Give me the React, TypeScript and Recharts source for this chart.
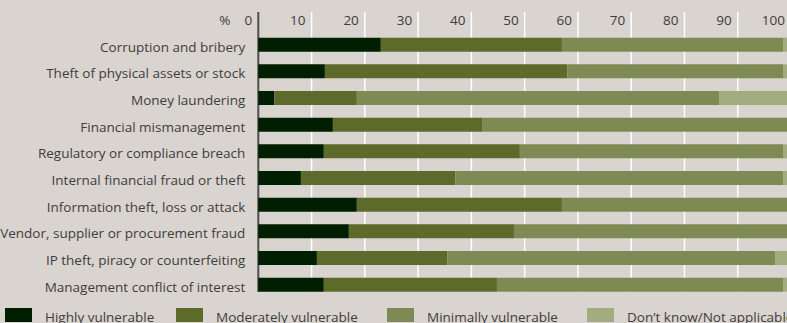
import React from 'react';
import { BarChart, Bar, XAxis, YAxis, CartesianGrid } from 'recharts';

const categories = [
  'Corruption and bribery',
  'Theft of physical assets or stock',
  'Money laundering',
  'Financial mismanagement',
  'Regulatory or compliance breach',
  'Internal financial fraud or theft',
  'Information theft, loss or attack',
  'Vendor, supplier or procurement fraud',
  'IP theft, piracy or counterfeiting',
  'Management conflict of interest',
];
const highly = [23, 12.5, 3, 14, 12.3, 8, 18.5, 17, 11, 12.3];
const moderately = [34, 45.5, 15.5, 28, 36.8, 29, 38.5, 31, 24.5, 32.5];
const minimally = [41.5, 40.5, 68, 58, 49.4, 61.5, 43, 52, 61.5, 53.7];
const dontKnow = [1.5, 1.5, 13.5, 0, 1.5, 1.5, 0, 0, 3, 1.5];
const xTicks = [0, 10, 20, 30, 40, 50, 60, 70, 80, 90, 100];

const seriesKeys = ['highly', 'moderately', 'minimally', 'dontKnow'];
const seriesNames = ['Highly vulnerable', 'Moderately vulnerable', 'Minimally vulnerable', 'Don\u2019t know/Not applicable'];
const seriesColors = ['#001f00', '#5c6b29', '#7e8a53', '#a3ac7e'];

const data = categories.map((name, i) => ({
  name,
  highly: highly[i],
  moderately: moderately[i],
  minimally: minimally[i],
  dontKnow: dontKnow[i],
}));

const FONT = '"Open Sans", sans-serif';
const FS = 13.5;
const TEXT = '#3d3d3d';
const BG = '#d9d4cf';
const LEGEND_X = [5, 176, 387, 587];

const XTick = (props: any) => {
  const { x, payload } = props;
  return (
    <g>
      <text x={x - 6} y={25} textAnchor="end" fontFamily={FONT} fontSize={FS} fill={TEXT}>
        {payload.value}
      </text>
      {payload.value === 0 && (
        <text x={x - 28} y={25} textAnchor="end" fontFamily={FONT} fontSize={FS} fill={TEXT}>
          %
        </text>
      )}
    </g>
  );
};

const YTick = (props: any) => {
  const { x, y, payload } = props;
  return (
    <text x={x} y={y + 6.7} textAnchor="end" fontFamily={FONT} fontSize={FS} fill={TEXT}>
      {payload.value}
    </text>
  );
};

const GridLine = (p: any) => {
  const isAxis = Math.abs(p.x1 - 258.3) < 1;
  return (
    <line
      key={p.key}
      x1={p.x1}
      x2={p.x2}
      y1={p.y1}
      y2={p.y2 - 6.3}
      stroke={isAxis ? '#4f4f4f' : '#ffffff'}
      strokeWidth={isAxis ? 2 : 1.5}
    />
  );
};

export default function App() {
  return (
    <div
      style={{
        position: 'fixed',
        left: 0,
        top: 0,
        width: 787,
        height: 323,
        overflow: 'hidden',
        background: BG,
      }}
    >
      <BarChart
        layout="vertical"
        width={800}
        height={323}
        data={data}
        margin={{ top: 11, right: 9, bottom: 24.7, left: 0 }}
        barSize={14}
      >
        <CartesianGrid horizontal={false} vertical={GridLine} />
        <XAxis
          type="number"
          domain={[0, 100]}
          ticks={xTicks}
          orientation="top"
          height={1}
          axisLine={false}
          tickLine={false}
          tick={XTick}
          interval={0}
        />
        <YAxis
          type="category"
          dataKey="name"
          width={258.3}
          axisLine={false}
          tickLine={false}
          tickSize={0}
          tickMargin={13}
          padding={{ top: 19.67, bottom: 0 }}
          tick={YTick}
          interval={0}
        />
        {seriesKeys.map((k, i) => (
          <Bar key={k} dataKey={k} name={seriesNames[i]} stackId="a" fill={seriesColors[i]} isAnimationActive={false} />
        ))}
      </BarChart>
      {seriesNames.map((n, i) => (
        <div key={n}>
          <div
            style={{
              position: 'absolute',
              left: LEGEND_X[i],
              top: 308,
              width: 27,
              height: 14,
              background: seriesColors[i],
            }}
          />
          <div
            style={{
              position: 'absolute',
              left: LEGEND_X[i] + 40,
              top: 306.5,
              fontFamily: FONT,
              fontSize: FS,
              lineHeight: '20px',
              color: TEXT,
              whiteSpace: 'nowrap',
            }}
          >
            {n}
          </div>
        </div>
      ))}
    </div>
  );
}
